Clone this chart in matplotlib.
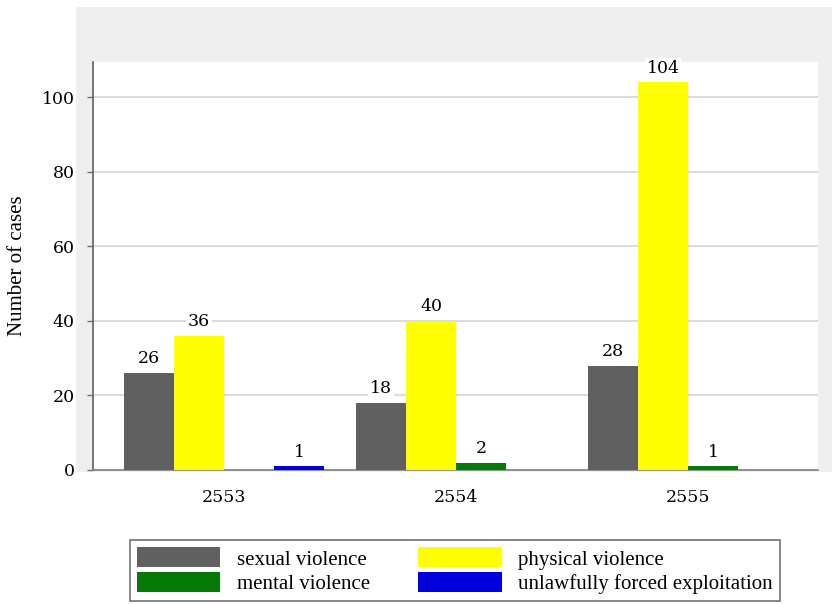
import numpy as np
import matplotlib.pyplot as plt
from matplotlib.patches import Patch

years = ['2553', '2554', '2555']
series = ['sexual violence', 'physical violence', 'mental violence',
          'unlawfully forced exploitation']
sexual = [26, 18, 28]
physical = [36, 40, 104]
mental = [0, 2, 1]
unlawful = [1, 0, 0]
colors = ['#606060', '#ffff00', '#067a06', '#0000dc']

values = [sexual, physical, mental, unlawful]

fig = plt.figure(figsize=(8.32, 6.04), dpi=100)
fig.patch.set_facecolor('white')

# light grey panel behind the plot
bg = fig.add_axes([0.0913, 0.2185, 0.9087, 0.77], zorder=0)
bg.set_facecolor('#efefef')
bg.set_xticks([])
bg.set_yticks([])
for s in bg.spines.values():
    s.set_visible(False)

ax = fig.add_axes([0.1118, 0.2219, 0.8714, 0.6755], zorder=1)
ax.set_facecolor('white')

x = np.arange(len(years))
w = 0.216
offsets = [-1.5 * w, -0.5 * w, 0.5 * w, 1.5 * w]

for vals, off, col in zip(values, offsets, colors):
    bars = ax.bar(x + off, vals, w, color=col, zorder=3)
    for b, v in zip(bars, vals):
        if v == 0:
            continue
        ax.annotate(str(v), (b.get_x() + b.get_width() / 2, v),
                    xytext=(0, 4), textcoords='offset points',
                    ha='center', va='bottom', fontsize=12.5, family='DejaVu Serif',
                    bbox=dict(boxstyle='square,pad=0.1', fc='white', ec='none'),
                    zorder=4)

ax.set_xlim(-0.565, 2.56)
ax.set_ylim(0, 109.4)
ax.set_yticks([0, 20, 40, 60, 80, 100])
ax.set_xticks(x)
ax.set_xticklabels(years, family='DejaVu Serif', fontsize=12.5)
ax.set_yticklabels([str(t) for t in [0, 20, 40, 60, 80, 100]],
                   family='DejaVu Serif', fontsize=12.5)
ax.yaxis.grid(True, color='#dcdcdc', linewidth=1.5, zorder=0)
ax.set_axisbelow(True)

ax.tick_params(axis='x', length=0, pad=14)
ax.tick_params(axis='y', length=4, width=1, color='#707070', pad=9)

for s in ['top', 'right']:
    ax.spines[s].set_visible(False)
ax.spines['left'].set_color('#606060')
ax.spines['left'].set_linewidth(1.2)
ax.spines['bottom'].set_color('#808080')
ax.spines['bottom'].set_linewidth(1.2)

ax.set_ylabel('Number of cases', family='Liberation Serif', fontsize=15)
ax.yaxis.set_label_coords(-0.091, 0.5)

handles = [Patch(facecolor=c, edgecolor='none') for c in colors]
order = [0, 2, 1, 3]
leg = fig.legend([handles[i] for i in order], [series[i] for i in order],
                 loc='lower left', bbox_to_anchor=(0.156, 0.005, 0.782, 0.11),
                 mode='expand', ncol=2, frameon=True, fancybox=False,
                 prop={'family': 'Liberation Serif', 'size': 15},
                 handlelength=4.0, handleheight=1.1, handletextpad=0.8,
                 labelspacing=0.1, borderpad=0.35, columnspacing=1.5,
                 borderaxespad=0)
leg.get_frame().set_edgecolor('#505050')
leg.get_frame().set_linewidth(1.2)

fig.savefig('out.png', dpi=100)
